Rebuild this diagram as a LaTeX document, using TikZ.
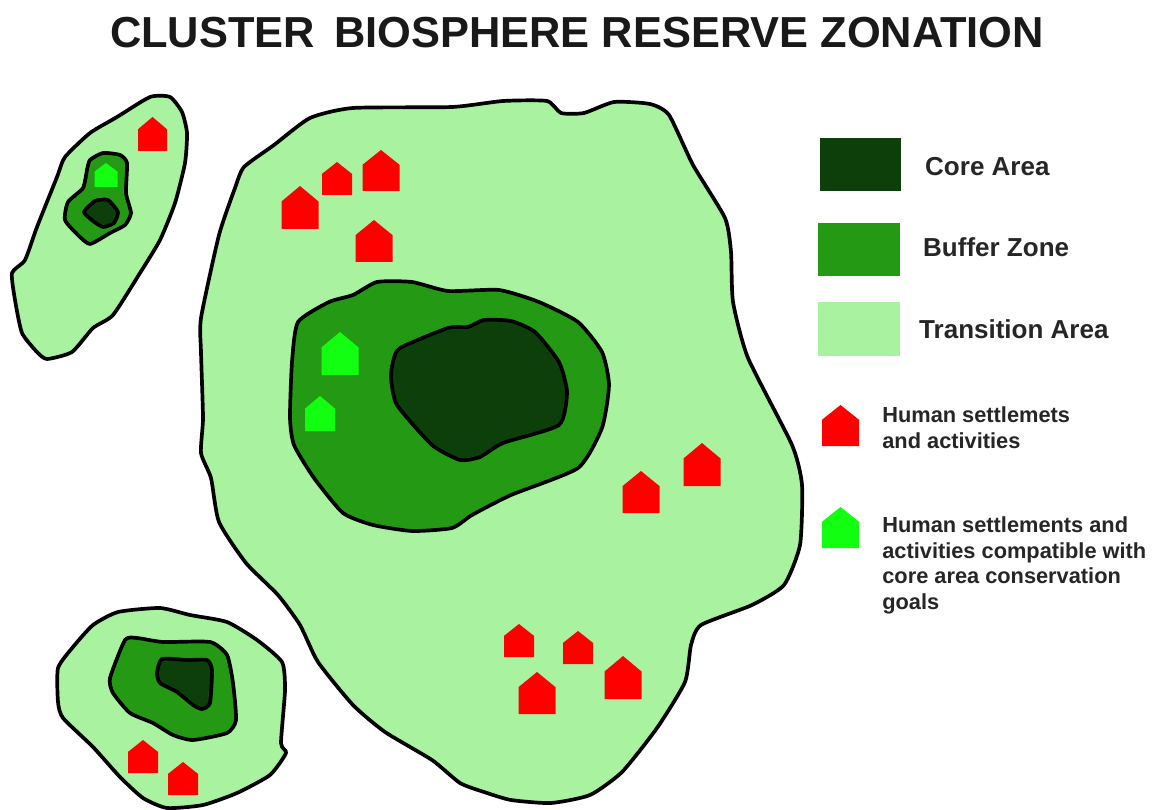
\documentclass[tikz,border=0pt]{standalone}
\usepackage{fontspec}
\setmainfont{Liberation Sans}
\definecolor{coregreen}{HTML}{0C3F0A}
\definecolor{buffergreen}{HTML}{249A14}
\definecolor{transgreen}{HTML}{A9F3A0}
\definecolor{housered}{HTML}{FF0000}
\definecolor{houselime}{HTML}{12FF12}
\begin{document}
\begin{tikzpicture}[x=0.02cm,y=-0.02cm,
  zoneline/.style={draw=black,line width=2.1pt,line join=round},
  blob/.style={smooth cycle,tension=0.35},
  bigword/.style={anchor=west,font=\fontsize{14.8}{17}\selectfont\bfseries,text=black!85},
  smallword/.style={anchor=north west,align=left,inner sep=0pt,font=\fontsize{12.4}{14.75}\selectfont\bfseries,text=black!85}]
\useasboundingbox (0,0) rectangle (1155,810);
\fill[white] (0,0) rectangle (1155,810);
\node[font=\fontsize{24.7}{28}\selectfont\bfseries,text=black!90] (title) at (577,33) {CLUSTER\, BIOSPHERE RESERVE ZONATION};
% main reserve
\draw[zoneline,fill=transgreen] plot[blob] coordinates {(201,318) (219,235) (235,188) (244,167) (274,145) (310,118) (353,108) (452,107) (503,101) (547,101) (561,113) (584,113) (614,102) (650,104) (669,115) (693,165) (725,218) (731,252) (733,302) (748,358) (792,445) (802,485) (800,545) (784,585) (752,605) (701,625) (691,645) (685,682) (657,728) (622,772) (590,795) (551,803) (511,800) (484,792) (460,783) (432,760) (385,732) (353,705) (318,662) (300,625) (278,595) (246,563) (219,522) (211,478) (201,453) (203,418) (201,352)};
\draw[zoneline,fill=buffergreen] plot[blob] coordinates {(292,362) (298,322) (329,302) (353,295) (377,282) (412,282) (448,291) (499,290) (539,302) (578,322) (602,352) (609,385) (602,428) (578,468) (511,495) (472,515) (452,528) (412,531) (373,525) (343,513) (314,478) (294,445) (290,418)};
\draw[zoneline,fill=coregreen] plot[blob] coordinates {(393,362) (400,348) (448,328) (468,327) (484,320) (511,321) (535,332) (559,362) (567,392) (559,425) (503,443) (480,457) (460,460) (432,445) (397,405) (391,378)};
% top left reserve
\draw[zoneline,fill=transgreen] plot[blob] coordinates {(150,97) (170,97) (182,112) (187,133) (185,163) (175,203) (160,240) (140,273) (113,315) (93,328) (72,352) (47,359) (37,352) (22,333) (15,300) (12,273) (25,260) (37,227) (57,177) (65,157) (90,133) (117,117)};
\draw[zoneline,fill=buffergreen] plot[blob] coordinates {(90,160) (103,153) (120,155) (127,163) (126,193) (131,213) (125,225) (110,233) (90,244) (78,235) (65,220) (68,202) (83,188) (87,170)};
\draw[zoneline,fill=coregreen] plot[blob] coordinates {(84,212) (95,201) (108,200) (118,212) (114,223) (103,227) (93,221)};
% bottom left reserve
\draw[zoneline,fill=transgreen] plot[blob] coordinates {(58,668) (73,647) (93,625) (118,612) (160,608) (190,615) (227,622) (257,640) (282,662) (285,690) (281,743) (286,753) (270,775) (237,793) (203,805) (167,808) (143,798) (120,777) (93,747) (63,718) (58,702)};
\draw[zoneline,fill=buffergreen] plot[blob] coordinates {(110,678) (125,640) (137,638) (163,642) (210,642) (227,655) (233,683) (236,720) (227,733) (193,740) (173,735) (153,723) (130,713) (113,693)};
\draw[zoneline,fill=coregreen] plot[blob] coordinates {(157,673) (162,659) (187,660) (207,660) (212,670) (210,703) (202,709) (193,705) (177,692) (160,683)};
% houses: centre x, bottom y, width, height
\foreach \cx/\by/\wd/\ht in {152.5/151/29/34, 300/229/37/43, 337/195/30/33, 381/191/37/41, 374/262/37/42, 641/513/37/42, 702/486/37/43, 519/657/30/33, 578/664/30/33, 537/714/37/42, 623/699/37/43, 143/773/30/33, 183/795/30/33, 840.5/446/37/41}
  \fill[housered] (\cx-\wd/2,\by) -- (\cx+\wd/2,\by) -- (\cx+\wd/2,\by-\ht*0.64) -- (\cx,\by-\ht) -- (\cx-\wd/2,\by-\ht*0.64) -- cycle;
\foreach \cx/\by/\wd/\ht in {106/187/23/24, 340/375/37/43, 320/431/30/35, 840.5/548/37/41}
  \fill[houselime] (\cx-\wd/2,\by) -- (\cx+\wd/2,\by) -- (\cx+\wd/2,\by-\ht*0.64) -- (\cx,\by-\ht) -- (\cx-\wd/2,\by-\ht*0.64) -- cycle;
% legend
\fill[coregreen] (820,138) rectangle (901,191);
\fill[buffergreen] (818,223) rectangle (900,276);
\fill[transgreen] (818,302) rectangle (900,356);
\node[bigword] (corelabel) at (919,167) {Core Area};
\node[bigword] (bufferlabel) at (917,247) {Buffer Zone};
\node[bigword] (translabel) at (913,329) {Transition Area};
\node[smallword] (redlabel) at (882,406) {Human settlemets\\and activities};
\node[smallword] (limelabel) at (882,516) {Human settlements and\\activities compatible with\\core area conservation\\goals};
\end{tikzpicture}
\end{document}
